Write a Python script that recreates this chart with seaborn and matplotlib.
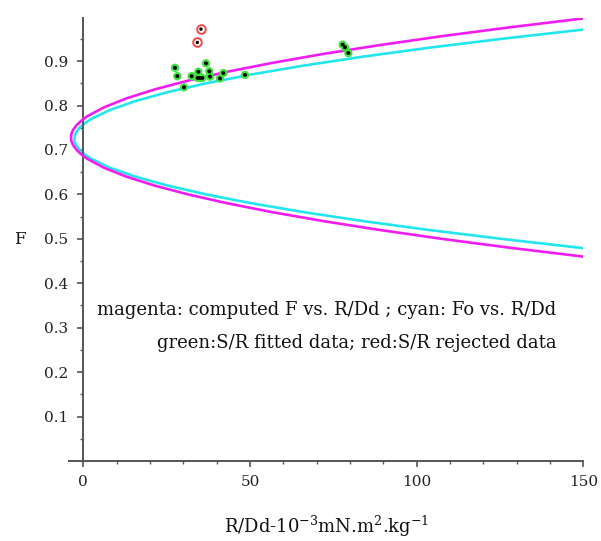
import matplotlib
matplotlib.use("Agg")
import matplotlib.pyplot as plt
from matplotlib.ticker import MultipleLocator, FixedLocator
import seaborn as sns
import pandas as pd

# Computed F vs. R/Dd (magenta curve), listed along F from the lower to the upper branch
magenta_F = [0.460, 0.480, 0.500, 0.520, 0.540, 0.560, 0.580, 0.600, 0.620, 0.640,
             0.660, 0.680, 0.690, 0.700, 0.710, 0.720, 0.728, 0.736, 0.746, 0.756,
             0.766, 0.776, 0.796, 0.816, 0.836, 0.856, 0.876, 0.896, 0.916, 0.936,
             0.956, 0.976, 0.996]
magenta_R = [150.0, 127.9, 107.5, 88.9, 71.9, 56.7, 43.2, 31.4, 21.3, 12.9,
             6.2, 1.2, -0.6, -2.0, -3.0, -3.6, -3.7, -3.6, -3.0, -2.0,
             -0.6, 1.2, 6.2, 12.9, 21.3, 31.4, 43.2, 56.7, 71.9, 88.9,
             107.5, 127.9, 150.0]

# Fo vs. R/Dd (cyan curve)
cyan_F = [0.479, 0.500, 0.520, 0.540, 0.560, 0.580, 0.600, 0.620, 0.640, 0.660,
          0.680, 0.690, 0.700, 0.710, 0.718, 0.725, 0.732, 0.740, 0.750, 0.760,
          0.770, 0.790, 0.810, 0.830, 0.850, 0.870, 0.890, 0.910, 0.930, 0.950,
          0.971]
cyan_R = [150.0, 125.4, 103.6, 83.9, 66.2, 50.5, 36.8, 25.2, 15.6, 8.0,
          2.4, 0.4, -1.1, -2.1, -2.6, -2.7, -2.6, -2.1, -1.1, 0.4,
          2.4, 8.0, 15.6, 25.2, 36.8, 50.5, 66.2, 83.9, 103.6, 125.4,
          150.0]

# S/R fitted data (green) and S/R rejected data (red)
fitted_R = [27.5, 28.2, 30.2, 32.5, 34.5, 34.3, 35.0, 35.7, 36.8, 37.8,
            38.0, 41.0, 42.0, 48.5, 77.8, 78.5, 79.5]
fitted_F = [0.885, 0.866, 0.841, 0.866, 0.876, 0.862, 0.862, 0.862, 0.895, 0.877,
            0.865, 0.861, 0.873, 0.869, 0.937, 0.931, 0.918]
rejected_R = [35.3, 34.2]
rejected_F = [0.972, 0.942]

x_ticks = [0, 50, 100, 150]
y_ticks = [0.1, 0.2, 0.3, 0.4, 0.5, 0.6, 0.7, 0.8, 0.9]

sns.set_theme(style="white")
plt.rcParams["font.family"] = ["DejaVu Serif"]
plt.rcParams["mathtext.fontset"] = "dejavuserif"

magenta_df = pd.DataFrame({"R": magenta_R, "F": magenta_F})
cyan_df = pd.DataFrame({"R": cyan_R, "F": cyan_F})
fitted_df = pd.DataFrame({"R": fitted_R, "F": fitted_F})
rejected_df = pd.DataFrame({"R": rejected_R, "F": rejected_F})

fig = plt.figure(figsize=(6.01, 5.41), dpi=100)
ax = fig.add_axes([69 / 601, 80 / 541, (583.3 - 69) / 601, (461 - 18) / 541])

sns.lineplot(data=cyan_df, x="R", y="F", sort=False, estimator=None,
             color="#22e6ee", lw=1.9, ax=ax, zorder=2)
sns.lineplot(data=magenta_df, x="R", y="F", sort=False, estimator=None,
             color="#f21cf2", lw=1.9, ax=ax, zorder=3)

# fitted points: green disc with a black centre
sns.scatterplot(data=fitted_df, x="R", y="F", s=36, color="#3fe03f",
                edgecolor="none", ax=ax, zorder=4)
sns.scatterplot(data=fitted_df, x="R", y="F", s=8, color="black",
                edgecolor="none", ax=ax, zorder=5)
# rejected points: red ring with a black centre
sns.scatterplot(data=rejected_df, x="R", y="F", s=38, facecolor="white",
                edgecolor="#f04848", linewidth=1.4, ax=ax, zorder=4)
sns.scatterplot(data=rejected_df, x="R", y="F", s=6, color="black",
                edgecolor="none", ax=ax, zorder=5)

ax.set_xlim(-4.3, 150)
ax.set_ylim(0, 0.997)

for side in ("top", "right"):
    ax.spines[side].set_visible(False)
ax.spines["left"].set_position(("data", 0))
for side in ("left", "bottom"):
    ax.spines[side].set_color("#555555")
    ax.spines[side].set_linewidth(1.4)

ax.xaxis.set_major_locator(FixedLocator(x_ticks))
ax.xaxis.set_minor_locator(MultipleLocator(10))
ax.yaxis.set_major_locator(FixedLocator(y_ticks))
ax.yaxis.set_minor_locator(MultipleLocator(0.05))
ax.set_xticklabels([str(t) for t in x_ticks])
ax.set_yticklabels([f"{t:.1f}" for t in y_ticks])
ax.tick_params(axis="both", which="major", direction="out", length=4, width=1.2,
               color="#555555", labelsize=11, labelcolor="#222222", pad=7)
ax.tick_params(axis="both", which="minor", direction="out", length=2.5, width=1.0,
               color="#555555")
ax.tick_params(axis="x", which="major", pad=6)
ax.tick_params(left=True, bottom=True, which="both")

ax.set_xlabel(r"R/Dd-10$^{-3}$mN.m$^{2}$.kg$^{-1}$", fontsize=13, color="#111111",
              labelpad=18)
ax.set_ylabel("")
fig.text(20 / 601, 1 - 239 / 541, "F", fontsize=12, color="#111111",
         ha="center", va="center")

ax.text(4.1, 0.339, "magenta: computed F vs. R/Dd ; cyan: Fo vs. R/Dd",
        fontsize=13, color="#111111", ha="left", va="center")
ax.text(22.1, 0.265, "green:S/R fitted data; red:S/R rejected data",
        fontsize=13, color="#111111", ha="left", va="center")

fig.savefig("out.png", dpi=100, facecolor="white")
